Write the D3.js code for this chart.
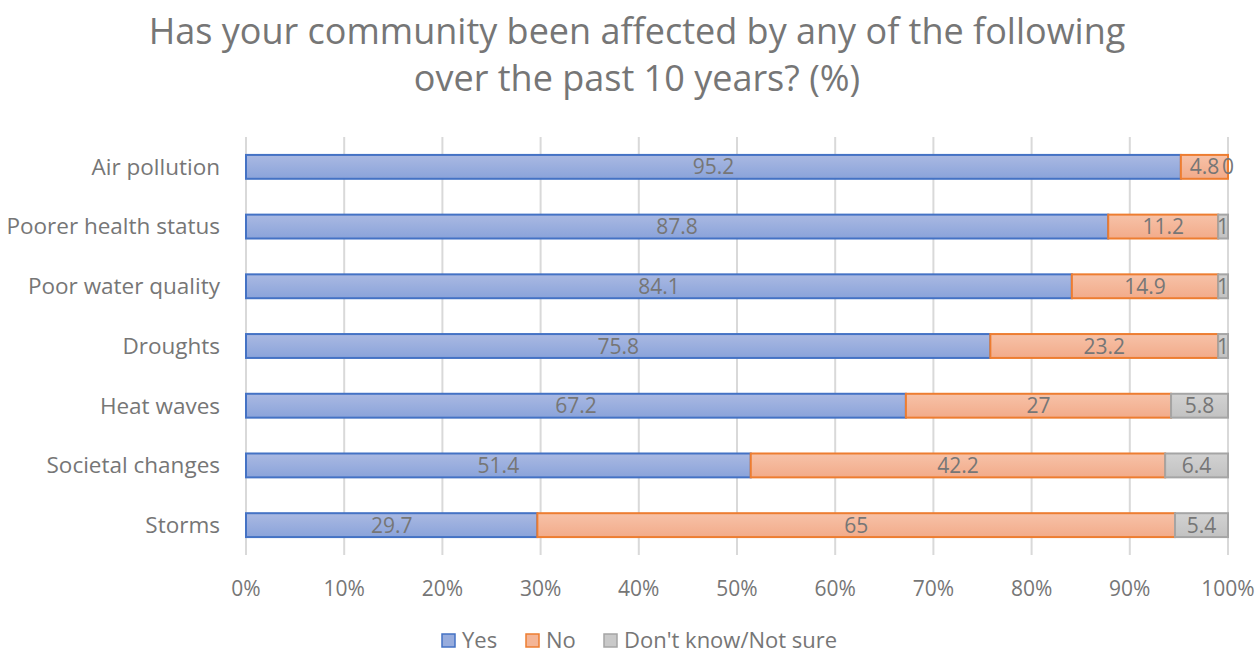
<!DOCTYPE html>
<html>
<head>
<meta charset="utf-8">
<script src="https://cdn.jsdelivr.net/npm/d3@7"></script>
<style>
  body { margin: 0; background: #fff; }
  text { font-family: "Open Sans", "Noto Sans", sans-serif; }
</style>
</head>
<body>
<svg id="chart" width="1258" height="655"></svg>
<script>
// data
const categories = ["Air pollution", "Poorer health status", "Poor water quality", "Droughts",
                    "Heat waves", "Societal changes", "Storms"];
const yesValues = [95.2, 87.8, 84.1, 75.8, 67.2, 51.4, 29.7];
const noValues = [4.8, 11.2, 14.9, 23.2, 27, 42.2, 65];
const dkValues = [0, 1, 1, 1, 5.8, 6.4, 5.4];
const yesLabels = ["95.2", "87.8", "84.1", "75.8", "67.2", "51.4", "29.7"];
const noLabels = ["4.8", "11.2", "14.9", "23.2", "27", "42.2", "65"];
const dkLabels = ["0", "1", "1", "1", "5.8", "6.4", "5.4"];
const seriesNames = ["Yes", "No", "Don't know/Not sure"];
const xTicks = [0, 0.1, 0.2, 0.3, 0.4, 0.5, 0.6, 0.7, 0.8, 0.9, 1];

const svg = d3.select("#chart");
const textColor = "#767676";

// build rows
const rows = categories.map((c, i) => ({
  cat: c, Yes: yesValues[i], No: noValues[i], "Don't know/Not sure": dkValues[i],
  labels: [yesLabels[i], noLabels[i], dkLabels[i]]
}));

const stacked = d3.stack()
  .keys(seriesNames)
  .offset(d3.stackOffsetExpand)(rows);

const xScale = d3.scaleLinear().domain([0, 1]).range([246, 1228]);
const yScale = d3.scaleBand().domain(categories).range([137, 555]).paddingInner(0.6).paddingOuter(0.3);

// gradients
const defs = svg.append("defs");
const grads = [
  { id: "gYes", top: "#aab9e2", bottom: "#8aa3da" },
  { id: "gNo", top: "#f7c2a8", bottom: "#f2ab8a" },
  { id: "gDk", top: "#d2d2d2", bottom: "#c2c2c2" }
];
grads.forEach(g => {
  const lg = defs.append("linearGradient").attr("id", g.id)
    .attr("x1", 0).attr("y1", 0).attr("x2", 0).attr("y2", 1);
  lg.append("stop").attr("offset", "0%").attr("stop-color", g.top);
  lg.append("stop").attr("offset", "100%").attr("stop-color", g.bottom);
});
const fills = ["url(#gYes)", "url(#gNo)", "url(#gDk)"];
const strokes = ["#4472c4", "#ed7d31", "#a5a5a5"];
const legendFills = ["#97acdd", "#f4b596", "#c9c9c9"];

// title
svg.append("text")
  .attr("x", 637).attr("y", 0)
  .attr("text-anchor", "middle")
  .attr("fill", textColor)
  .style("font-size", "36px")
  .selectAll("tspan")
  .data(["Has your community been affected by any of the following", "over the past 10 years? (%)"])
  .enter().append("tspan")
  .attr("x", 637)
  .attr("y", (d, i) => 44 + i * 47)
  .text(d => d);

// gridlines
svg.append("g")
  .selectAll("line")
  .data(xTicks)
  .enter().append("line")
  .attr("x1", d => xScale(d)).attr("x2", d => xScale(d))
  .attr("y1", 137).attr("y2", 555)
  .attr("stroke", "#d9d9d9")
  .attr("stroke-width", 2);

// x tick labels
svg.append("g")
  .selectAll("text")
  .data(xTicks)
  .enter().append("text")
  .attr("x", d => xScale(d))
  .attr("y", 596)
  .attr("text-anchor", "middle")
  .attr("fill", textColor)
  .style("font-size", "21px")
  .text(d => d3.format(".0%")(d));

// category labels
svg.append("g")
  .selectAll("text")
  .data(categories)
  .enter().append("text")
  .attr("x", 220)
  .attr("y", d => yScale(d) + yScale.bandwidth() / 2)
  .attr("dy", "0.35em")
  .attr("text-anchor", "end")
  .attr("fill", textColor)
  .style("font-size", "22.5px")
  .text(d => d);

// bars
const layers = svg.append("g")
  .selectAll("g.layer")
  .data(stacked)
  .enter().append("g")
  .attr("class", "layer");

layers.selectAll("rect")
  .data(d => d)
  .enter().append("rect")
  .attr("x", d => xScale(d[0]))
  .attr("y", d => yScale(d.data.cat))
  .attr("width", d => Math.max(0, xScale(d[1]) - xScale(d[0])))
  .attr("height", yScale.bandwidth())
  .attr("fill", function () { return fills[d3.select(this.parentNode).datum().index]; })
  .attr("stroke", function (d) {
    return (d[1] - d[0]) > 0 ? strokes[d3.select(this.parentNode).datum().index] : "none";
  })
  .attr("stroke-width", 2);

// value labels
layers.selectAll("text")
  .data(d => d)
  .enter().append("text")
  .attr("x", d => (xScale(d[0]) + xScale(d[1])) / 2)
  .attr("y", d => yScale(d.data.cat) + yScale.bandwidth() / 2)
  .attr("dy", "0.36em")
  .attr("text-anchor", "middle")
  .attr("fill", textColor)
  .style("font-size", "21px")
  .text(function (d) { return d.data.labels[d3.select(this.parentNode).datum().index]; });

// legend
const legendX = [442, 526, 604];
const legend = svg.append("g")
  .selectAll("g")
  .data(seriesNames)
  .enter().append("g")
  .attr("transform", (d, i) => `translate(${legendX[i]}, 634)`);
legend.append("rect")
  .attr("width", 13).attr("height", 13)
  .attr("fill", (d, i) => legendFills[i])
  .attr("stroke", (d, i) => strokes[i])
  .attr("stroke-width", 1.5);
legend.append("text")
  .attr("x", 20).attr("y", 6)
  .attr("dy", "0.36em")
  .attr("fill", textColor)
  .style("font-size", "22px")
  .text(d => d);
</script>
</body>
</html>
